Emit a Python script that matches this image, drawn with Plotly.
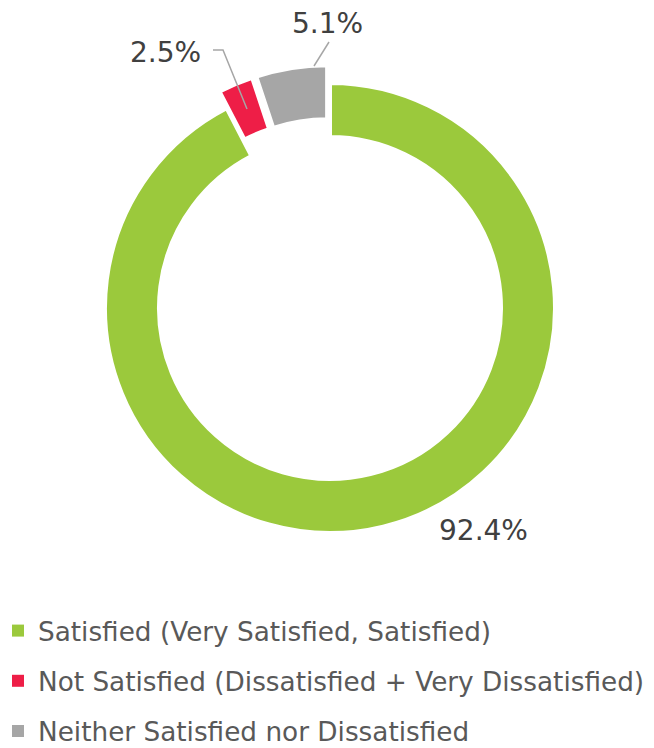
import plotly.graph_objects as go

# ---- data ----
categories = [
    "Satisfied (Very Satisfied, Satisfied)",
    "Not Satisfied (Dissatisfied + Very Dissatisfied)",
    "Neither Satisfied nor Dissatisfied",
]
values = [92.4, 2.5, 5.1]
value_labels = ["92.4%", "2.5%", "5.1%"]
colors = ["#9BC93C", "#EE1E47", "#A6A6A6"]
pulls = [0, 0.08, 0.08]

# page has an 8px body margin; size the figure to fit the 654x748 window
OFF = 8
W, H = 654 - OFF, 748 - OFF


def px(x):
    return (x - OFF) / W


def py(y):
    return 1 - (y - OFF) / H


fig = go.Figure()

fig.add_trace(go.Pie(
    labels=categories,
    values=values,
    sort=False,
    direction="clockwise",
    rotation=0,
    hole=0.76,
    pull=pulls,
    marker=dict(colors=colors, line=dict(color="white", width=4)),
    textinfo="none",
    showlegend=False,
    domain=dict(x=[px(330 - 243), px(330 + 243)], y=[py(308 + 243), py(308 - 243)]),
))

# legend entries
for name, col in zip(categories, colors):
    fig.add_trace(go.Scatter(
        x=[None], y=[None], mode="markers", name=name, legendgroup=name,
        marker=dict(symbol="square", size=12, color=col),
    ))

# value labels (layout positions)
label_pos = [(483, 530), (165, 52), (327, 23)]
annotations = []
for txt, (x, y) in zip(value_labels, label_pos):
    annotations.append(dict(
        x=px(x), y=py(y), xref="paper", yref="paper", text=txt, showarrow=False,
        xanchor="center", yanchor="middle",
        font=dict(family="DejaVu Sans", size=28, color="#404040"),
    ))

shapes = [
    dict(type="path", xref="paper", yref="paper",
         path=f"M {px(213)},{py(50)} L {px(223)},{py(50)} L {px(247)},{py(109)}",
         line=dict(color="#A6A6A6", width=1.5)),
    dict(type="path", xref="paper", yref="paper",
         path=f"M {px(329)},{py(42)} L {px(314)},{py(66)}",
         line=dict(color="#A6A6A6", width=1.5)),
]

fig.update_layout(
    width=W, height=H,
    margin=dict(l=0, r=0, t=0, b=0, autoexpand=False),
    paper_bgcolor="white", plot_bgcolor="white",
    xaxis=dict(visible=False), yaxis=dict(visible=False),
    annotations=annotations,
    shapes=shapes,
    legend=dict(
        x=px(-2), y=py(607), xanchor="left", yanchor="top",
        font=dict(family="DejaVu Sans", size=26.3, color="#595959"),
        traceorder="grouped", tracegroupgap=13,
        bgcolor="rgba(0,0,0,0)",
    ),
    showlegend=True,
)

fig.write_html("out.html")
